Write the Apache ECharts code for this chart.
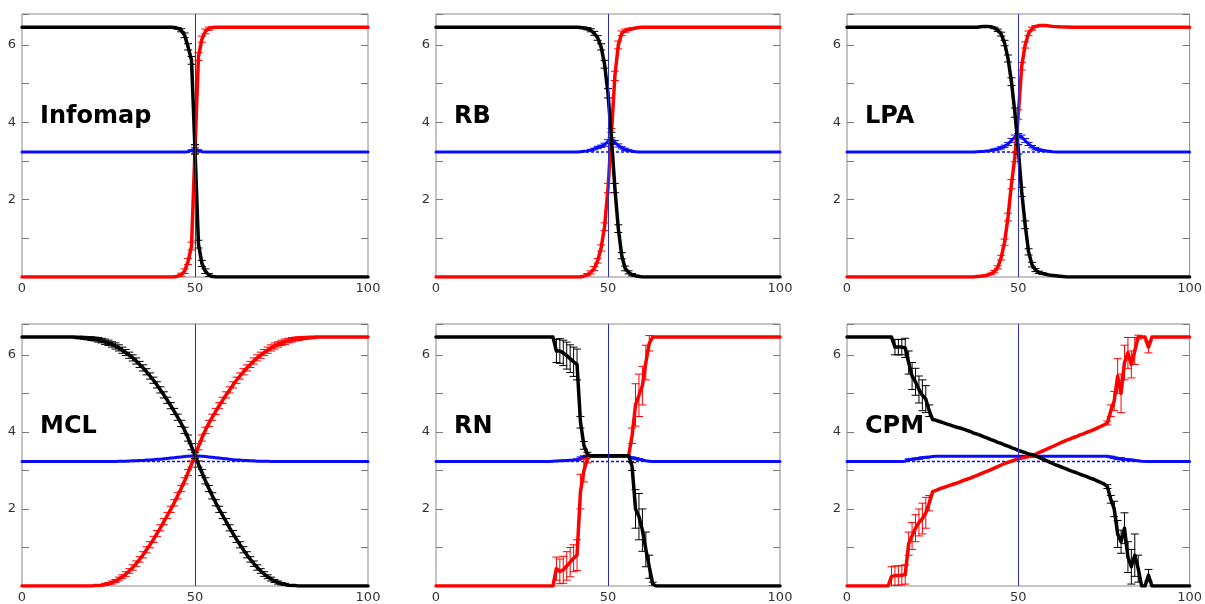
<!DOCTYPE html>
<html>
<head>
<meta charset="utf-8">
<script src="https://cdn.jsdelivr.net/npm/echarts@6/dist/echarts.min.js"></script>
<style>
  html, body { margin: 0; padding: 0; background: #ffffff; }
  #chart { width: 1205px; height: 604px; }
</style>
</head>
<body>
<div id="chart"></div>
<script>
// Method names, one per panel (row-major order)
const methodNames = ['Infomap', 'RB', 'LPA', 'MCL', 'RN', 'CPM'];
const xTickValues = [0, 50, 100];
const yTickLabels = [2, 4, 6];
const yMax = 6.8;
const baselineValue = 3.23;   // dashed reference level
const splitValue = 50;        // vertical marker

// Points are [x, value] or [x, value, error half-width]
const infomapBlack = [[0,6.46],[43,6.46],[44,6.45],[45,6.43,0.02],[46,6.38,0.04],[47,6.25,0.06],[48,5.95,0.08],[49,5.6,0.1],[50,3.3,0.12],[51,0.85,0.1],[52,0.35,0.08],[53,0.15,0.06],[54,0.05,0.04],[55,0.01,0.02],[56,0],[100,0]];
const infomapRed = [[0,0],[44,0],[45,0.02,0.02],[46,0.06,0.04],[47,0.15,0.06],[48,0.4,0.08],[49,0.8,0.1],[50,3.3,0.12],[51,5.7,0.1],[52,6.15,0.08],[53,6.35,0.06],[54,6.42,0.04],[55,6.45,0.02],[56,6.46],[100,6.46]];
const infomapBlue = [[0,3.23],[47,3.23],[48,3.24],[49,3.27,0.02],[50,3.31,0.03],[51,3.27,0.02],[52,3.24],[53,3.23],[100,3.23]];

const rbBlack = [[0,6.46],[41,6.46],[42,6.45],[43,6.44,0.02],[44,6.42,0.03],[45,6.38,0.04],[46,6.3,0.05],[47,6.18,0.06],[48,5.95,0.08],[49,5.5,0.1],[50,4.75,0.12],[51,3.6,0.14],[52,2.3,0.12],[53,1.25,0.1],[54,0.55,0.08],[55,0.22,0.06],[56,0.12,0.04],[57,0.06,0.03],[58,0.03,0.02],[59,0.01],[60,0],[100,0]];
const rbRed = [[0,0],[42,0],[43,0.02,0.02],[44,0.06,0.03],[45,0.12,0.04],[46,0.22,0.05],[47,0.42,0.06],[48,0.75,0.08],[49,1.3,0.1],[50,2.3,0.12],[51,3.7,0.14],[52,5.2,0.12],[53,6.0,0.1],[54,6.3,0.06],[55,6.37,0.04],[56,6.4,0.03],[57,6.42,0.02],[58,6.44],[59,6.45],[60,6.46],[100,6.46]];
const rbBlue = [[0,3.23],[41,3.23],[42,3.24],[43,3.25],[44,3.26],[45,3.28,0.02],[46,3.31,0.02],[47,3.35,0.03],[48,3.38,0.03],[49,3.42,0.04],[50,3.5,0.05],[51,3.55,0.05],[52,3.48,0.05],[53,3.4,0.04],[54,3.34,0.03],[55,3.3,0.03],[56,3.27,0.02],[57,3.25],[58,3.24],[59,3.23],[100,3.23]];

const lpaBlack = [[0,6.46],[38,6.46],[39,6.47],[40,6.48],[41,6.48],[42,6.47],[43,6.44,0.02],[44,6.38,0.03],[45,6.28,0.05],[46,6.05,0.07],[47,5.65,0.09],[48,5.05,0.1],[49,4.25,0.12],[50,3.3,0.12],[51,2.2,0.12],[52,1.35,0.1],[53,0.65,0.08],[54,0.32,0.06],[55,0.18,0.04],[56,0.12,0.03],[57,0.09,0.02],[58,0.07],[59,0.05],[60,0.04],[61,0.03],[62,0.02],[63,0.01],[64,0],[100,0]];
const lpaRed = [[0,0],[37,0],[38,0.01],[39,0.02],[40,0.03],[41,0.05],[42,0.08,0.02],[43,0.14,0.03],[44,0.25,0.04],[45,0.5,0.06],[46,0.9,0.08],[47,1.55,0.1],[48,2.4,0.12],[49,3.1,0.12],[50,4.2,0.12],[51,5.45,0.1],[52,6.0,0.08],[53,6.3,0.06],[54,6.42,0.04],[55,6.48,0.02],[56,6.5],[57,6.5],[58,6.5],[59,6.49],[60,6.48],[62,6.47],[66,6.46],[100,6.46]];
const lpaBlue = [[0,3.23],[37,3.23],[38,3.24],[40,3.25],[41,3.26],[42,3.27],[43,3.29,0.02],[44,3.31,0.02],[45,3.34,0.03],[46,3.38,0.03],[47,3.44,0.04],[48,3.53,0.05],[49,3.62,0.05],[50,3.66,0.05],[51,3.62,0.05],[52,3.53,0.05],[53,3.44,0.04],[54,3.37,0.03],[55,3.32,0.03],[56,3.29,0.02],[57,3.27,0.02],[58,3.26],[59,3.25],[60,3.24],[62,3.23],[100,3.23]];

const mclBlack = [[0,6.46],[15,6.46],[16,6.45,0.03],[17,6.45,0.03],[18,6.44,0.04],[19,6.43,0.04],[20,6.42,0.05],[21,6.41,0.05],[22,6.39,0.06],[23,6.37,0.06],[24,6.34,0.07],[25,6.31,0.07],[26,6.27,0.07],[27,6.23,0.08],[28,6.18,0.08],[29,6.12,0.08],[30,6.06,0.08],[31,5.99,0.08],[32,5.92,0.08],[33,5.84,0.08],[34,5.75,0.08],[35,5.66,0.08],[36,5.56,0.08],[37,5.45,0.08],[38,5.34,0.08],[39,5.22,0.08],[40,5.09,0.08],[41,4.96,0.08],[42,4.82,0.08],[43,4.68,0.08],[44,4.53,0.08],[45,4.38,0.08],[46,4.22,0.08],[47,4.04,0.08],[48,3.84,0.08],[49,3.615,0.08],[50,3.39,0.08],[51,3.165,0.08],[52,2.945,0.08],[53,2.73,0.08],[54,2.53,0.08],[55,2.34,0.08],[56,2.16,0.08],[57,1.99,0.08],[58,1.83,0.08],[59,1.67,0.08],[60,1.51,0.08],[61,1.36,0.08],[62,1.21,0.08],[63,1.07,0.08],[64,0.94,0.08],[65,0.81,0.08],[66,0.69,0.07],[67,0.58,0.07],[68,0.48,0.07],[69,0.39,0.06],[70,0.31,0.06],[71,0.24,0.05],[72,0.18,0.05],[73,0.13,0.04],[74,0.09,0.04],[75,0.06,0.03],[76,0.04,0.03],[77,0.02],[78,0.01],[79,0.01],[80,0],[100,0]];
const mclRed = [[0,0],[20,0],[21,0.01],[22,0.01],[23,0.02],[24,0.04,0.03],[25,0.06,0.03],[26,0.09,0.04],[27,0.13,0.04],[28,0.18,0.05],[29,0.24,0.05],[30,0.31,0.06],[31,0.39,0.06],[32,0.48,0.07],[33,0.58,0.07],[34,0.69,0.07],[35,0.81,0.08],[36,0.94,0.08],[37,1.07,0.08],[38,1.21,0.08],[39,1.36,0.08],[40,1.51,0.08],[41,1.67,0.08],[42,1.83,0.08],[43,1.99,0.08],[44,2.16,0.08],[45,2.34,0.08],[46,2.53,0.08],[47,2.73,0.08],[48,2.945,0.08],[49,3.165,0.08],[50,3.39,0.08],[51,3.615,0.08],[52,3.84,0.08],[53,4.04,0.08],[54,4.22,0.08],[55,4.38,0.08],[56,4.53,0.08],[57,4.68,0.08],[58,4.82,0.08],[59,4.96,0.08],[60,5.09,0.08],[61,5.22,0.08],[62,5.34,0.08],[63,5.45,0.08],[64,5.56,0.08],[65,5.66,0.08],[66,5.75,0.08],[67,5.84,0.08],[68,5.92,0.08],[69,5.99,0.08],[70,6.06,0.08],[71,6.12,0.08],[72,6.18,0.08],[73,6.23,0.08],[74,6.27,0.07],[75,6.31,0.07],[76,6.34,0.07],[77,6.37,0.06],[78,6.39,0.06],[79,6.41,0.05],[80,6.42,0.05],[81,6.43,0.04],[82,6.44,0.04],[83,6.45,0.03],[84,6.45,0.03],[85,6.46],[100,6.46]];
const mclBlue = [[0,3.23],[27,3.23],[28,3.235],[29,3.24],[30,3.24],[31,3.245],[32,3.25],[33,3.25],[34,3.26],[35,3.26],[36,3.27],[37,3.27],[38,3.28],[39,3.29],[40,3.29],[41,3.3],[42,3.31],[43,3.32],[44,3.33],[45,3.34],[46,3.35],[47,3.36],[48,3.37],[49,3.375],[50,3.38],[51,3.375],[52,3.37],[53,3.36],[54,3.35],[55,3.34],[56,3.33],[57,3.32],[58,3.31],[59,3.3],[60,3.29],[61,3.28],[62,3.27],[63,3.27],[64,3.26],[65,3.26],[66,3.25],[67,3.25],[68,3.24],[69,3.24],[70,3.24],[71,3.235],[72,3.23],[100,3.23]];

const rnBlack = [[0,6.46],[34,6.46],[35,6.1,0.3],[36,6.1,0.32],[37,6.05,0.33],[38,5.98,0.35],[39,5.9,0.36],[40,5.82,0.38],[41,5.75,0.4],[42,4.25,0.15],[43,3.65,0.1],[44,3.42,0.05],[45,3.38],[56,3.38],[57,3.1,0.1],[58,2.0,0.5],[59,1.8,0.6],[60,1.45,0.55],[61,0.95,0.45],[62,0.5,0.3],[63,0.05,0.05],[64,0],[100,0]];
const rnRed = [[0,0],[34,0],[35,0.45,0.3],[36,0.38,0.32],[37,0.42,0.35],[38,0.52,0.37],[39,0.62,0.38],[40,0.72,0.35],[41,0.8,0.4],[42,2.45,0.45],[43,3.0,0.3],[44,3.3,0.1],[45,3.38],[56,3.38],[57,3.9,0.2],[58,4.7,0.55],[59,4.95,0.55],[60,5.2,0.5],[61,5.8,0.45],[62,6.3,0.2],[63,6.46],[100,6.46]];
const rnBlue = [[0,3.23],[33,3.23],[34,3.24],[36,3.25],[38,3.26],[40,3.27],[41,3.28,0.02],[42,3.32,0.03],[43,3.35,0.03],[44,3.36,0.02],[56,3.36],[57,3.33,0.02],[58,3.31,0.02],[59,3.29,0.02],[60,3.27],[61,3.25],[62,3.24],[63,3.23],[100,3.23]];

const cpmBlack = [[0,6.46],[13,6.46],[14,6.2,0.2],[15,6.2,0.2],[16,6.2,0.2],[17,6.18,0.25],[18,5.8,0.3],[19,5.45,0.35],[20,5.3,0.35],[21,5.1,0.35],[22,4.95,0.4],[23,4.85,0.35],[24,4.55,0.15],[25,4.32],[26,4.3],[27,4.27],[28,4.24],[29,4.21],[30,4.18],[31,4.15],[32,4.12],[33,4.1],[34,4.07],[35,4.04],[36,4.01],[37,3.97],[38,3.94],[39,3.91],[40,3.87],[41,3.84],[42,3.8],[43,3.77],[44,3.73],[45,3.7],[46,3.66],[47,3.63],[48,3.59],[49,3.56],[50,3.52],[51,3.49],[52,3.46],[53,3.43],[54,3.41],[55,3.38],[56,3.34],[57,3.3],[58,3.26],[59,3.22],[60,3.18],[61,3.14],[62,3.11],[63,3.07],[64,3.04],[65,3.0],[66,2.97],[67,2.94],[68,2.9],[69,2.87],[70,2.84],[71,2.8],[72,2.77],[73,2.73],[74,2.69],[75,2.65],[76,2.58,0.05],[77,2.25,0.1],[78,2.0,0.2],[79,1.35,0.35],[80,1.15,0.3],[81,1.5,0.4],[82,0.75,0.4],[83,0.5,0.45],[84,0.8,0.55],[85,0.45,0.35],[86,0],[87,0],[88,0.28,0.15],[89,0],[100,0]];
const cpmRed = [[0,0],[12,0],[13,0.25,0.25],[14,0.27,0.25],[15,0.27,0.25],[16,0.28,0.25],[17,0.3,0.25],[18,1.1,0.3],[19,1.3,0.35],[20,1.5,0.35],[21,1.65,0.35],[22,1.75,0.4],[23,1.9,0.4],[24,2.15,0.2],[25,2.45],[26,2.48],[27,2.52],[28,2.55],[29,2.58],[30,2.61],[31,2.64],[32,2.67],[33,2.7],[34,2.74],[35,2.77],[36,2.8],[37,2.84],[38,2.87],[39,2.91],[40,2.95],[41,2.98],[42,3.02],[43,3.06],[44,3.1],[45,3.14],[46,3.18],[47,3.21],[48,3.24],[49,3.27],[50,3.3],[51,3.32],[52,3.34],[53,3.36],[54,3.38],[55,3.42],[56,3.46],[57,3.5],[58,3.54],[59,3.58],[60,3.62],[61,3.66],[62,3.7],[63,3.74],[64,3.78],[65,3.81],[66,3.85],[67,3.88],[68,3.92],[69,3.95],[70,3.99],[71,4.02],[72,4.06],[73,4.1],[74,4.14],[75,4.18],[76,4.23,0.05],[77,4.55,0.15],[78,4.8,0.25],[79,5.45,0.45],[80,5.0,0.5],[81,5.8,0.45],[82,6.05,0.4],[83,5.75,0.35],[84,6.1,0.35],[85,6.46,0.05],[86,6.46],[87,6.46],[88,6.2,0.15],[89,6.46],[100,6.46]];
const cpmBlue = [[0,3.23],[16,3.23],[17,3.24],[18,3.28,0.02],[19,3.29,0.02],[20,3.3,0.02],[21,3.31,0.02],[22,3.33,0.02],[23,3.34,0.02],[24,3.35],[25,3.36],[26,3.37],[76,3.37],[77,3.35,0.02],[78,3.33,0.02],[79,3.3,0.02],[80,3.31,0.02],[81,3.28,0.02],[82,3.28,0.02],[83,3.27,0.02],[84,3.26],[85,3.25],[86,3.24],[88,3.23],[100,3.23]];

const panelSeries = [
  [infomapBlack, infomapRed, infomapBlue],
  [rbBlack, rbRed, rbBlue],
  [lpaBlack, lpaRed, lpaBlue],
  [mclBlack, mclRed, mclBlue],
  [rnBlack, rnRed, rnBlue],
  [cpmBlack, cpmRed, cpmBlue]
];

// Panel frames in pixels
const boxes = [
  { left: 22,  top: 14,  width: 346, height: 263 },
  { left: 436, top: 14,  width: 344, height: 263 },
  { left: 847, top: 14,  width: 345, height: 263 },
  { left: 22,  top: 324, width: 346, height: 263 },
  { left: 436, top: 324, width: 344, height: 263 },
  { left: 847, top: 324, width: 344, height: 263 }
];
const nameOffsetX = 18;
const nameTopRow = [105, 415];

const COLORS = { black: '#000000', red: '#ff0000', blue: '#0a0aff', marker: '#2b2bc8' };
const FONT = 'DejaVu Sans';

const grids = [], xAxes = [], yAxes = [], series = [], titles = [];

function errorBarSeries(points, color, gi, z) {
  return {
    type: 'custom',
    xAxisIndex: gi,
    yAxisIndex: gi * 2,
    silent: true,
    clip: true,
    z: z,
    data: points.filter(p => p.length > 2 && p[2] > 0),
    encode: { x: 0, y: 1 },
    renderItem: function (params, api) {
      const x = api.value(0), y = api.value(1), e = api.value(2);
      const hi = api.coord([x, y + e]);
      const lo = api.coord([x, y - e]);
      const cap = 4;
      const style = { stroke: color, lineWidth: 1, fill: null };
      return {
        type: 'group',
        children: [
          { type: 'line', shape: { x1: hi[0], y1: hi[1], x2: lo[0], y2: lo[1] }, style: style },
          { type: 'line', shape: { x1: hi[0] - cap, y1: hi[1], x2: hi[0] + cap, y2: hi[1] }, style: style },
          { type: 'line', shape: { x1: lo[0] - cap, y1: lo[1], x2: lo[0] + cap, y2: lo[1] }, style: style }
        ]
      };
    }
  };
}

function curveSeries(points, color, gi, z, width) {
  return {
    type: 'line',
    xAxisIndex: gi,
    yAxisIndex: gi * 2,
    data: points.map(p => [p[0], p[1]]),
    showSymbol: false,
    symbol: 'none',
    silent: true,
    z: z,
    lineStyle: { color: color, width: width, join: 'round', cap: 'round' }
  };
}

boxes.forEach((b, gi) => {
  grids.push(Object.assign({ show: true, borderColor: '#8a8a8a', borderWidth: 1, backgroundColor: '#ffffff' }, b));

  xAxes.push({
    type: 'value', gridIndex: gi, min: xTickValues[0], max: xTickValues[2],
    interval: xTickValues[1] - xTickValues[0],
    axisLine: { show: false },
    axisTick: { show: false },
    splitLine: { show: false },
    axisLabel: { color: '#333333', fontFamily: FONT, fontSize: 13, margin: 5 }
  });

  const yCommon = {
    type: 'value', gridIndex: gi, min: 0, max: yMax, interval: 1,
    axisLine: { show: false },
    splitLine: { show: false },
    axisTick: { show: true, inside: true, length: 7, lineStyle: { color: '#7a7a7a', width: 1 } }
  };
  yAxes.push(Object.assign({}, yCommon, {
    position: 'left',
    axisLabel: {
      color: '#333333', fontFamily: FONT, fontSize: 13, margin: 6,
      formatter: v => (yTickLabels.indexOf(v) >= 0 ? String(v) : '')
    }
  }));
  yAxes.push(Object.assign({}, yCommon, { position: 'right', axisLabel: { show: false } }));

  const [blackPts, redPts, bluePts] = panelSeries[gi];

  // dashed level and vertical marker
  series.push({
    type: 'line', xAxisIndex: gi, yAxisIndex: gi * 2, silent: true, z: 1,
    data: [[xTickValues[0], baselineValue], [xTickValues[2], baselineValue]],
    showSymbol: false, symbol: 'none',
    lineStyle: { color: COLORS.blue, width: 1.5, type: [3, 2] },
    markLine: {
      silent: true, symbol: 'none', label: { show: false },
      lineStyle: { color: COLORS.marker, width: 1, type: 'solid' },
      data: [{ xAxis: splitValue }]
    }
  });

  series.push(curveSeries(bluePts, COLORS.blue, gi, 2, 3));
  series.push(errorBarSeries(bluePts, COLORS.blue, gi, 2));
  series.push(curveSeries(redPts, COLORS.red, gi, 3, 3.5));
  series.push(errorBarSeries(redPts, COLORS.red, gi, 3));
  series.push(curveSeries(blackPts, COLORS.black, gi, 4, 3.5));
  series.push(errorBarSeries(blackPts, COLORS.black, gi, 4));

  titles.push({
    text: methodNames[gi],
    left: b.left + nameOffsetX,
    top: nameTopRow[gi < 3 ? 0 : 1],
    padding: 0,
    textStyle: { fontFamily: FONT, fontSize: 24, fontWeight: 'bold', color: '#000000' }
  });
});

const chart = echarts.init(document.getElementById('chart'), null, { renderer: 'canvas' });
chart.setOption({
  backgroundColor: '#ffffff',
  animation: false,
  title: titles,
  grid: grids,
  xAxis: xAxes,
  yAxis: yAxes,
  series: series
});
</script>
</body>
</html>
